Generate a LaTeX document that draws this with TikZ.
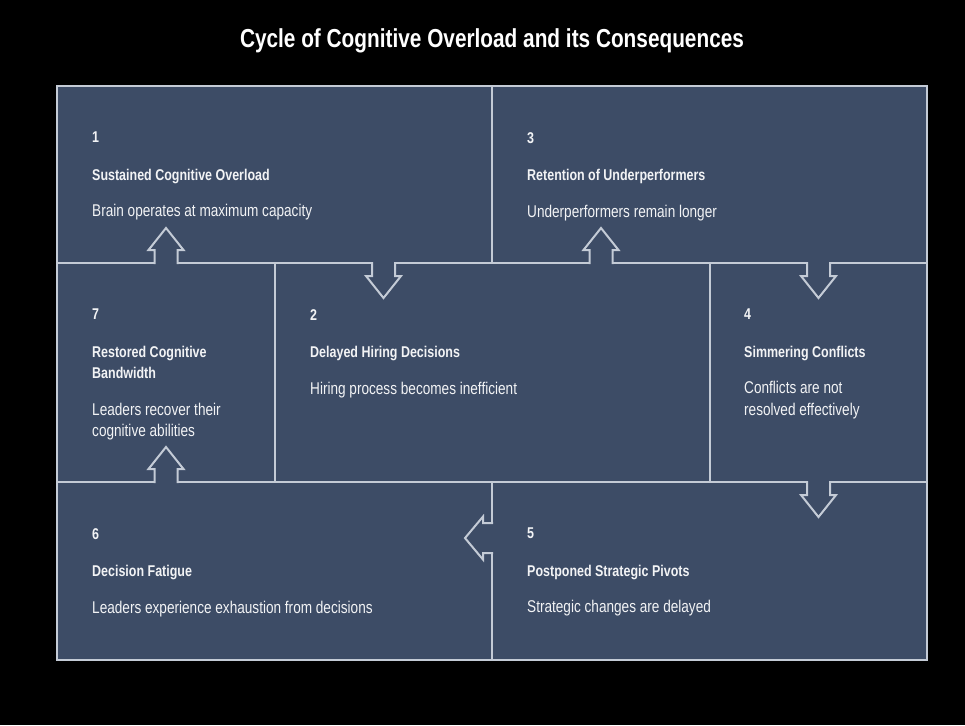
\documentclass[tikz,border=0pt]{standalone}
\usepackage{fontspec}
\setmainfont{Liberation Sans}[FakeStretch=0.8]
\usepackage{tikz}
\usetikzlibrary{positioning,calc}

\definecolor{panel}{RGB}{61,76,102}
\definecolor{edgec}{RGB}{196,203,214}
\definecolor{ink}{RGB}{242,243,245}

% number, heading, description of one stage
\newcommand{\hd}{\fontsize{15.6}{21.5}\selectfont\bfseries}
\newcommand{\stage}[3]{\hd #1\\[16pt]\hd #2\\[15pt]#3}

\tikzset{
  edge/.style={draw=edgec, line width=2pt},
  bump up/.pic={
    \fill[panel] (-11.5,1.5) -- (-11.5,-13) -- (-17.5,-13) -- (0,-35)
      -- (17.5,-13) -- (11.5,-13) -- (11.5,1.5) -- cycle;
    \draw[edge, line join=miter] (-11.5,1) -- (-11.5,-13) -- (-17.5,-13) -- (0,-35)
      -- (17.5,-13) -- (11.5,-13) -- (11.5,1);
  },
  bump left/.pic={
    \fill[panel] (1.5,-15) -- (-9,-15) -- (-9,-21.5) -- (-27,0)
      -- (-9,21.5) -- (-9,15) -- (1.5,15) -- cycle;
    \draw[edge, line join=miter] (1,-15) -- (-9,-15) -- (-9,-21.5) -- (-27,0)
      -- (-9,21.5) -- (-9,15) -- (1,15);
  },
}

\begin{document}
\begin{tikzpicture}[
  x=1pt, y=-1pt,
  cell/.style={edge, fill=panel, inner sep=0pt, outer sep=0pt},
  txt/.style={anchor=north west, align=left, inner sep=0pt, text=ink,
    font=\fontsize{17}{21.5}\selectfont},
]
\fill[black] (0,0) rectangle (965,725);

\node[text=white, font=\fontsize{26}{30}\selectfont\bfseries, anchor=base]
  (title) at (492,48) {Cycle of Cognitive Overload and its Consequences};

% the seven cells
\node[cell, minimum width=435pt, minimum height=177pt, anchor=north west] (c1) at (57,86) {};
\node[cell, minimum width=435pt, minimum height=177pt, right=0pt of c1] (c3) {};
\node[cell, minimum width=218pt, minimum height=219pt, anchor=north west] (c7) at (c1.south west) {};
\node[cell, minimum width=435pt, minimum height=219pt, right=0pt of c7] (c2) {};
\node[cell, minimum width=217pt, minimum height=219pt, right=0pt of c2] (c4) {};
\node[cell, minimum width=435pt, minimum height=178pt, anchor=north west] (c6) at (c7.south west) {};
\node[cell, minimum width=435pt, minimum height=178pt, right=0pt of c6] (c5) {};

% arrows between the cells
\pic at (c7.north) {bump up};
\pic[yscale=-1] at ($(c2.north west)!.5!(c1.south east)$) {bump up};
\pic at ($(c2.north east)!.5!(c3.south west)$) {bump up};
\pic[yscale=-1] at ($(c4.north west)!.5!(c3.south east)$) {bump up};
\pic[yscale=-1] at (c4.south) {bump up};
\pic at ($(c5.north west)!.315!(c5.south west)$) {bump left};
\pic at (c7.south) {bump up};

% texts
\node[txt] (t1) at ([shift={(35,46)}]c1.north west)
  {\stage{1}{Sustained Cognitive Overload}{Brain operates at maximum capacity}};
\node[txt] (t2) at ([shift={(35,46)}]c2.north west)
  {\stage{2}{Delayed Hiring Decisions}{Hiring process becomes inefficient}};
\node[txt] (t3) at ([shift={(35,46)}]c3.north west)
  {\stage{3}{Retention of Underperformers}{Underperformers remain longer}};
\node[txt] (t4) at ([shift={(34,46)}]c4.north west)
  {\stage{4}{Simmering Conflicts}{Conflicts are not\\resolved effectively}};
\node[txt] (t5) at ([shift={(35,46)}]c5.north west)
  {\stage{5}{Postponed Strategic Pivots}{Strategic changes are delayed}};
\node[txt] (t6) at ([shift={(35,46)}]c6.north west)
  {\stage{6}{Decision Fatigue}{Leaders experience exhaustion from decisions}};
\node[txt] (t7) at ([shift={(35,46)}]c7.north west)
  {\stage{7}{Restored Cognitive\\\hd Bandwidth}{Leaders recover their\\cognitive abilities}};
\end{tikzpicture}
\end{document}
